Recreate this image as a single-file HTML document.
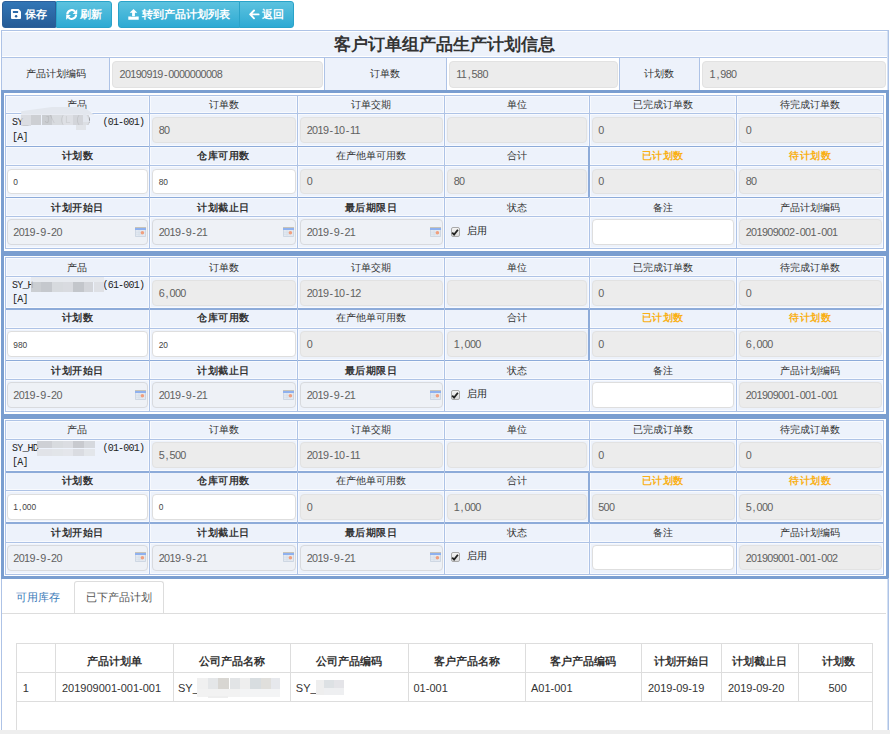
<!DOCTYPE html>
<html><head><meta charset="utf-8"><style>
html,body{margin:0;padding:0;width:890px;height:734px;overflow:hidden;background:#fff;position:relative}
body>div,body>svg{position:absolute}
</style></head><body>
<div style="left:2px;top:1px;width:54px;height:27px;background:linear-gradient(#3276b6,#255b96);box-sizing:border-box;border:1px solid #2b5f99;border-radius:3px 0 0 3px;"></div>
<svg style="position:absolute;left:11.2px;top:9.2px" width="10" height="10" viewBox="0 0 10 10"><path d="M0 1 Q0 0 1 0 H7.6 L10 2.4 V9 Q10 10 9 10 H1 Q0 10 0 9Z" fill="#fff"/><rect x="1.9" y="2.0" width="5.2" height="2.1" rx="0.5" fill="#2d6aa8"/><circle cx="5.1" cy="7.2" r="1.25" fill="#2a63a0"/></svg>
<div style="left:24.5px;top:5.90px;width:120px;height:16px;line-height:16px;text-align:left;white-space:nowrap;color:#fff;font-size:10.7px;font-weight:bold;font-family:'Liberation Sans',sans-serif;">保存</div>
<div style="left:56px;top:1px;width:56px;height:27px;background:linear-gradient(#5cc2df,#2eaad3);box-sizing:border-box;border:1px solid #2aa3c9;border-radius:0 3px 3px 0;"></div>
<svg style="position:absolute;left:65.5px;top:9.3px" width="12" height="11" viewBox="0 0 12 11"><path d="M1.3 5.6 A4.4 4.4 0 0 1 9.0 2.6" stroke="#fff" stroke-width="2.1" fill="none"/><path d="M11.2 0.3 V4.9 H6.6Z" fill="#fff"/><path d="M10.1 5.4 A4.4 4.4 0 0 1 2.4 8.4" stroke="#fff" stroke-width="2.1" fill="none"/><path d="M0.2 10.7 V6.1 H4.8Z" fill="#fff"/></svg>
<div style="left:79.5px;top:5.90px;width:120px;height:16px;line-height:16px;text-align:left;white-space:nowrap;color:#fff;font-size:10.7px;font-weight:bold;font-family:'Liberation Sans',sans-serif;">刷新</div>
<div style="left:118px;top:1px;width:121.5px;height:27px;background:linear-gradient(#5cc2df,#2eaad3);box-sizing:border-box;border:1px solid #2aa3c9;border-radius:3px 0 0 3px;"></div>
<svg style="position:absolute;left:128px;top:8px" width="11" height="12" viewBox="0 0 11 12"><path d="M5.5 1.0 L9.3 4.7 H6.9 V8.6 H4.1 V4.7 H1.7Z" fill="#fff"/><path d="M0.3 8.4 H3.6 V9.0 H7.4 V8.4 H10.7 V11.7 H0.3Z" fill="#fff"/></svg>
<div style="left:142px;top:5.90px;width:120px;height:16px;line-height:16px;text-align:left;white-space:nowrap;color:#fff;font-size:10.7px;font-weight:bold;font-family:'Liberation Sans',sans-serif;">转到产品计划列表</div>
<div style="left:239px;top:1px;width:55px;height:27px;background:linear-gradient(#5cc2df,#2eaad3);box-sizing:border-box;border:1px solid #2aa3c9;border-radius:0 3px 3px 0;"></div>
<svg style="position:absolute;left:249px;top:9px" width="11" height="11" viewBox="0 0 11 11"><path d="M9.6 5.4 H1.6 M5.0 1.5 L1.2 5.4 L5.0 9.3" stroke="#fff" stroke-width="1.9" fill="none" stroke-linecap="round" stroke-linejoin="round"/></svg>
<div style="left:262px;top:5.90px;width:120px;height:16px;line-height:16px;text-align:left;white-space:nowrap;color:#fff;font-size:10.7px;font-weight:bold;font-family:'Liberation Sans',sans-serif;">返回</div>
<div style="left:1px;top:30px;width:888px;height:700px;box-sizing:border-box;border:1px solid #aec3e6;border-bottom:none;background:#fff"></div>
<div style="left:887px;top:31px;width:1px;height:699px;background:#d3e0f3"></div>
<div style="left:2px;top:31px;width:885px;height:26px;background:#edf2fb;box-shadow:inset 0 1px 0 #fff, inset 0 -1px 0 #fff"></div>
<div style="left:2px;top:35.20px;width:885px;height:20px;line-height:20px;text-align:center;white-space:nowrap;font-size:16.8px;font-weight:bold;color:#333;font-family:'Liberation Sans',sans-serif;letter-spacing:0px">客户订单组产品生产计划信息</div>
<div style="left:2px;top:58px;width:107.5px;height:32px;background:#edf2fb"></div>
<div style="left:109.5px;top:58px;width:214.5px;height:32px;background:#fff"></div>
<div style="left:324px;top:58px;width:122.60000000000002px;height:32px;background:#edf2fb"></div>
<div style="left:446.6px;top:58px;width:172.60000000000002px;height:32px;background:#fff"></div>
<div style="left:619.2px;top:58px;width:80.29999999999995px;height:32px;background:#edf2fb"></div>
<div style="left:699.5px;top:58px;width:187.5px;height:32px;background:#fff"></div>
<div style="left:109.0px;top:58px;width:1px;height:32px;background:#aec3e6"></div>
<div style="left:323.5px;top:58px;width:1px;height:32px;background:#aec3e6"></div>
<div style="left:446.1px;top:58px;width:1px;height:32px;background:#aec3e6"></div>
<div style="left:618.7px;top:58px;width:1px;height:32px;background:#aec3e6"></div>
<div style="left:699.0px;top:58px;width:1px;height:32px;background:#aec3e6"></div>
<div style="left:2px;top:57.3px;width:885px;height:1.2px;background:#aec3e6"></div>
<div style="left:2px;top:66.50px;width:107.5px;height:14px;line-height:14px;text-align:center;white-space:nowrap;font-size:10.2px;color:#333;font-family:'Liberation Sans',sans-serif;">产品计划编码</div>
<div style="left:112px;top:61px;width:210.7px;height:26.5px;box-sizing:border-box;background:#ececec;border:1px solid #e2e2e2;border-radius:4px"></div>
<div style="left:119.5px;top:67.00px;width:200px;height:14px;line-height:14px;text-align:left;white-space:nowrap;font-size:10.8px;letter-spacing:-0.6px;color:#606060;font-family:'Liberation Sans',sans-serif;">20190919<span style="margin:0 1.2px">-</span>0000000008</div>
<div style="left:324px;top:66.50px;width:122.60000000000002px;height:14px;line-height:14px;text-align:center;white-space:nowrap;font-size:10.2px;color:#333;font-family:'Liberation Sans',sans-serif;">订单数</div>
<div style="left:448.7px;top:61px;width:169.09999999999997px;height:26.5px;box-sizing:border-box;background:#ececec;border:1px solid #e2e2e2;border-radius:4px"></div>
<div style="left:456.2px;top:67.00px;width:200px;height:14px;line-height:14px;text-align:left;white-space:nowrap;font-size:10.8px;letter-spacing:-0.6px;color:#606060;font-family:'Liberation Sans',sans-serif;">11<span style="margin:0 1.5px">,</span>580</div>
<div style="left:619.2px;top:66.50px;width:80.29999999999995px;height:14px;line-height:14px;text-align:center;white-space:nowrap;font-size:10.2px;color:#333;font-family:'Liberation Sans',sans-serif;">计划数</div>
<div style="left:702px;top:61px;width:183.79999999999995px;height:26.5px;box-sizing:border-box;background:#ececec;border:1px solid #e2e2e2;border-radius:4px"></div>
<div style="left:709.5px;top:67.00px;width:200px;height:14px;line-height:14px;text-align:left;white-space:nowrap;font-size:10.8px;letter-spacing:-0.6px;color:#606060;font-family:'Liberation Sans',sans-serif;">1<span style="margin:0 1.5px">,</span>980</div>
<div style="left:1px;top:90px;width:887px;height:161.3px;"></div>
<div style="left:2px;top:90px;width:885px;height:160.3px;background:#fff"></div>
<div style="left:1px;top:90px;width:887px;height:3px;background:#7a9ed0"></div>
<div style="left:1px;top:90px;width:3px;height:162.8px;background:#7a9ed0"></div>
<div style="left:885.5px;top:90px;width:3px;height:162.8px;background:#7a9ed0"></div>
<div style="left:5px;top:95px;width:878.7px;height:153.8px;background:#edf2fb"></div>
<div style="left:5.5px;top:95.5px;width:143.5px;height:17.5px;box-sizing:border-box;border:1px solid #f8fafe"></div>
<div style="left:150.0px;top:95.5px;width:147.0px;height:17.5px;box-sizing:border-box;border:1px solid #f8fafe"></div>
<div style="left:298.0px;top:95.5px;width:146.0px;height:17.5px;box-sizing:border-box;border:1px solid #f8fafe"></div>
<div style="left:445.0px;top:95.5px;width:143.5px;height:17.5px;box-sizing:border-box;border:1px solid #f8fafe"></div>
<div style="left:589.5px;top:95.5px;width:146.5px;height:17.5px;box-sizing:border-box;border:1px solid #f8fafe"></div>
<div style="left:737.0px;top:95.5px;width:146.2px;height:17.5px;box-sizing:border-box;border:1px solid #f8fafe"></div>
<div style="left:5.5px;top:114.0px;width:143.5px;height:31.5px;box-sizing:border-box;border:1px solid #f8fafe"></div>
<div style="left:150.0px;top:114.0px;width:147.0px;height:31.5px;box-sizing:border-box;border:1px solid #f8fafe"></div>
<div style="left:298.0px;top:114.0px;width:146.0px;height:31.5px;box-sizing:border-box;border:1px solid #f8fafe"></div>
<div style="left:445.0px;top:114.0px;width:143.5px;height:31.5px;box-sizing:border-box;border:1px solid #f8fafe"></div>
<div style="left:589.5px;top:114.0px;width:146.5px;height:31.5px;box-sizing:border-box;border:1px solid #f8fafe"></div>
<div style="left:737.0px;top:114.0px;width:146.2px;height:31.5px;box-sizing:border-box;border:1px solid #f8fafe"></div>
<div style="left:5.5px;top:146.5px;width:143.5px;height:18.3px;box-sizing:border-box;border:1px solid #f8fafe"></div>
<div style="left:150.0px;top:146.5px;width:147.0px;height:18.3px;box-sizing:border-box;border:1px solid #f8fafe"></div>
<div style="left:298.0px;top:146.5px;width:146.0px;height:18.3px;box-sizing:border-box;border:1px solid #f8fafe"></div>
<div style="left:445.0px;top:146.5px;width:143.5px;height:18.3px;box-sizing:border-box;border:1px solid #f8fafe"></div>
<div style="left:589.5px;top:146.5px;width:146.5px;height:18.3px;box-sizing:border-box;border:1px solid #f8fafe"></div>
<div style="left:737.0px;top:146.5px;width:146.2px;height:18.3px;box-sizing:border-box;border:1px solid #f8fafe"></div>
<div style="left:5.5px;top:165.8px;width:143.5px;height:31.1px;box-sizing:border-box;border:1px solid #f8fafe"></div>
<div style="left:150.0px;top:165.8px;width:147.0px;height:31.1px;box-sizing:border-box;border:1px solid #f8fafe"></div>
<div style="left:298.0px;top:165.8px;width:146.0px;height:31.1px;box-sizing:border-box;border:1px solid #f8fafe"></div>
<div style="left:445.0px;top:165.8px;width:143.5px;height:31.1px;box-sizing:border-box;border:1px solid #f8fafe"></div>
<div style="left:589.5px;top:165.8px;width:146.5px;height:31.1px;box-sizing:border-box;border:1px solid #f8fafe"></div>
<div style="left:737.0px;top:165.8px;width:146.2px;height:31.1px;box-sizing:border-box;border:1px solid #f8fafe"></div>
<div style="left:5.5px;top:197.9px;width:143.5px;height:18.5px;box-sizing:border-box;border:1px solid #f8fafe"></div>
<div style="left:150.0px;top:197.9px;width:147.0px;height:18.5px;box-sizing:border-box;border:1px solid #f8fafe"></div>
<div style="left:298.0px;top:197.9px;width:146.0px;height:18.5px;box-sizing:border-box;border:1px solid #f8fafe"></div>
<div style="left:445.0px;top:197.9px;width:143.5px;height:18.5px;box-sizing:border-box;border:1px solid #f8fafe"></div>
<div style="left:589.5px;top:197.9px;width:146.5px;height:18.5px;box-sizing:border-box;border:1px solid #f8fafe"></div>
<div style="left:737.0px;top:197.9px;width:146.2px;height:18.5px;box-sizing:border-box;border:1px solid #f8fafe"></div>
<div style="left:5.5px;top:217.4px;width:143.5px;height:30.9px;box-sizing:border-box;border:1px solid #f8fafe"></div>
<div style="left:150.0px;top:217.4px;width:147.0px;height:30.9px;box-sizing:border-box;border:1px solid #f8fafe"></div>
<div style="left:298.0px;top:217.4px;width:146.0px;height:30.9px;box-sizing:border-box;border:1px solid #f8fafe"></div>
<div style="left:445.0px;top:217.4px;width:143.5px;height:30.9px;box-sizing:border-box;border:1px solid #f8fafe"></div>
<div style="left:589.5px;top:217.4px;width:146.5px;height:30.9px;box-sizing:border-box;border:1px solid #f8fafe"></div>
<div style="left:737.0px;top:217.4px;width:146.2px;height:30.9px;box-sizing:border-box;border:1px solid #f8fafe"></div>
<div style="left:5px;top:94.5px;width:878.7px;height:1px;background:#aec3e6"></div>
<div style="left:5px;top:113.0px;width:878.7px;height:1px;background:#aec3e6"></div>
<div style="left:5px;top:145.5px;width:878.7px;height:1.5px;background:#8dabd9"></div>
<div style="left:5px;top:164.8px;width:878.7px;height:1px;background:#aec3e6"></div>
<div style="left:5px;top:196.9px;width:878.7px;height:1.5px;background:#8dabd9"></div>
<div style="left:5px;top:216.4px;width:878.7px;height:1px;background:#aec3e6"></div>
<div style="left:5px;top:248.3px;width:878.7px;height:1px;background:#aec3e6"></div>
<div style="left:4.5px;top:95px;width:1px;height:153.8px;background:#aec3e6"></div>
<div style="left:149.0px;top:95px;width:1px;height:153.8px;background:#aec3e6"></div>
<div style="left:297.0px;top:95px;width:1px;height:153.8px;background:#aec3e6"></div>
<div style="left:444.0px;top:95px;width:1px;height:153.8px;background:#aec3e6"></div>
<div style="left:588.5px;top:95px;width:1px;height:153.8px;background:#aec3e6"></div>
<div style="left:736.0px;top:95px;width:1px;height:153.8px;background:#aec3e6"></div>
<div style="left:883.2px;top:95px;width:1px;height:153.8px;background:#aec3e6"></div>
<div style="left:588px;top:146px;width:2px;height:51.400000000000006px;background:#8dabd9"></div>
<div style="left:5px;top:97.95px;width:144.5px;height:14px;line-height:14px;text-align:center;white-space:nowrap;font-size:10.2px;color:#333;font-family:'Liberation Sans',sans-serif;">产品</div>
<div style="left:5px;top:148.65px;width:144.5px;height:14px;line-height:14px;text-align:center;white-space:nowrap;font-size:10.2px;color:#333;font-weight:bold;letter-spacing:0.5px;font-family:'Liberation Sans',sans-serif;">计划数</div>
<div style="left:5px;top:200.95px;width:144.5px;height:14px;line-height:14px;text-align:center;white-space:nowrap;font-size:10.2px;color:#333;font-weight:bold;letter-spacing:0.5px;font-family:'Liberation Sans',sans-serif;">计划开始日</div>
<div style="left:149.5px;top:97.95px;width:148.0px;height:14px;line-height:14px;text-align:center;white-space:nowrap;font-size:10.2px;color:#333;font-family:'Liberation Sans',sans-serif;">订单数</div>
<div style="left:149.5px;top:148.65px;width:148.0px;height:14px;line-height:14px;text-align:center;white-space:nowrap;font-size:10.2px;color:#333;font-weight:bold;letter-spacing:0.5px;font-family:'Liberation Sans',sans-serif;">仓库可用数</div>
<div style="left:149.5px;top:200.95px;width:148.0px;height:14px;line-height:14px;text-align:center;white-space:nowrap;font-size:10.2px;color:#333;font-weight:bold;letter-spacing:0.5px;font-family:'Liberation Sans',sans-serif;">计划截止日</div>
<div style="left:297.5px;top:97.95px;width:147.0px;height:14px;line-height:14px;text-align:center;white-space:nowrap;font-size:10.2px;color:#333;font-family:'Liberation Sans',sans-serif;">订单交期</div>
<div style="left:297.5px;top:148.65px;width:147.0px;height:14px;line-height:14px;text-align:center;white-space:nowrap;font-size:10.2px;color:#333;font-family:'Liberation Sans',sans-serif;">在产他单可用数</div>
<div style="left:297.5px;top:200.95px;width:147.0px;height:14px;line-height:14px;text-align:center;white-space:nowrap;font-size:10.2px;color:#333;font-weight:bold;letter-spacing:0.5px;font-family:'Liberation Sans',sans-serif;">最后期限日</div>
<div style="left:444.5px;top:97.95px;width:144.5px;height:14px;line-height:14px;text-align:center;white-space:nowrap;font-size:10.2px;color:#333;font-family:'Liberation Sans',sans-serif;">单位</div>
<div style="left:444.5px;top:148.65px;width:144.5px;height:14px;line-height:14px;text-align:center;white-space:nowrap;font-size:10.2px;color:#333;font-family:'Liberation Sans',sans-serif;">合计</div>
<div style="left:444.5px;top:200.95px;width:144.5px;height:14px;line-height:14px;text-align:center;white-space:nowrap;font-size:10.2px;color:#333;font-family:'Liberation Sans',sans-serif;">状态</div>
<div style="left:589px;top:97.95px;width:147.5px;height:14px;line-height:14px;text-align:center;white-space:nowrap;font-size:10.2px;color:#333;font-family:'Liberation Sans',sans-serif;">已完成订单数</div>
<div style="left:589px;top:148.65px;width:147.5px;height:14px;line-height:14px;text-align:center;white-space:nowrap;font-size:10.2px;color:#f9b016;font-weight:bold;letter-spacing:0.5px;font-family:'Liberation Sans',sans-serif;">已计划数</div>
<div style="left:589px;top:200.95px;width:147.5px;height:14px;line-height:14px;text-align:center;white-space:nowrap;font-size:10.2px;color:#333;font-family:'Liberation Sans',sans-serif;">备注</div>
<div style="left:736.5px;top:97.95px;width:147.20000000000005px;height:14px;line-height:14px;text-align:center;white-space:nowrap;font-size:10.2px;color:#333;font-family:'Liberation Sans',sans-serif;">待完成订单数</div>
<div style="left:736.5px;top:148.65px;width:147.20000000000005px;height:14px;line-height:14px;text-align:center;white-space:nowrap;font-size:10.2px;color:#f9b016;font-weight:bold;letter-spacing:0.5px;font-family:'Liberation Sans',sans-serif;">待计划数</div>
<div style="left:736.5px;top:200.95px;width:147.20000000000005px;height:14px;line-height:14px;text-align:center;white-space:nowrap;font-size:10.2px;color:#333;font-family:'Liberation Sans',sans-serif;">产品计划编码</div>
<div style="left:12px;top:116.15px;width:140px;height:14px;line-height:14px;text-align:left;white-space:nowrap;font-size:10px;color:#222;font-family:'Liberation Mono',monospace;letter-spacing:-0.8px">SY_</div>
<div style="left:102.5px;top:116.15px;width:60px;height:14px;line-height:14px;text-align:left;white-space:nowrap;font-size:10px;color:#222;font-family:'Liberation Mono',monospace;letter-spacing:-0.8px">(01-001)</div>
<div style="left:12px;top:130.55px;width:60px;height:14px;line-height:14px;text-align:left;white-space:nowrap;font-size:10px;color:#222;font-family:'Liberation Mono',monospace;letter-spacing:-0.8px">[A]</div>
<div style="left:44px;top:115px;width:50px;height:13px;overflow:hidden"><div style="position:absolute;left:0;top:-1px;white-space:nowrap;font-size:10px;line-height:14px;color:#555;opacity:0.7;font-family:'Liberation Mono',monospace;letter-spacing:-0.8px">J\ (L ( )</div></div>
<div style="left:21.2px;top:114.6px;width:10.1px;height:11.8px;background:#d8dade;filter:blur(0.6px);opacity:0.85"></div>
<div style="left:31.3px;top:114.6px;width:10.2px;height:10.1px;background:#c8cacd;filter:blur(0.6px);opacity:0.85"></div>
<div style="left:41.5px;top:114.6px;width:10.1px;height:10.1px;background:#c5c7ca;filter:blur(0.6px);opacity:0.85"></div>
<div style="left:51.6px;top:114.6px;width:11.2px;height:10.1px;background:#d5d7db;filter:blur(0.6px);opacity:0.85"></div>
<div style="left:62.8px;top:114.6px;width:10.1px;height:10.1px;background:#dcdee2;filter:blur(0.6px);opacity:0.85"></div>
<div style="left:72.9px;top:114.6px;width:10.1px;height:10.1px;background:#cfd1d5;filter:blur(0.6px);opacity:0.85"></div>
<div style="left:83px;top:114.6px;width:5.7px;height:10.1px;background:#dadce0;filter:blur(0.6px);opacity:0.85"></div>
<div style="left:76px;top:124.7px;width:10px;height:5px;background:#e0e2e6;filter:blur(0.6px);opacity:0.85"></div>
<div style="left:21.2px;top:106.8px;width:73px;height:8px;background:#e3e7ee;clip-path:polygon(0 55%,45% 0,85% 0,100% 100%,0 100%);filter:blur(0.5px)"></div>
<div style="left:83px;top:114px;width:7px;height:8px;background:#e3e7ee;clip-path:polygon(0 0,40% 0,100% 100%,0 100%);filter:blur(0.5px)"></div>
<div style="left:152.2px;top:116.8px;width:143.7px;height:26.2px;box-sizing:border-box;background:#ececec;border:1px solid #e2e2e2;border-radius:4px"></div>
<div style="left:158.7px;top:122.90px;width:150px;height:14px;line-height:14px;text-align:left;white-space:nowrap;font-size:10.8px;letter-spacing:-0.6px;color:#606060;font-family:'Liberation Sans',sans-serif;">80</div>
<div style="left:300.2px;top:116.8px;width:142.7px;height:26.2px;box-sizing:border-box;background:#ececec;border:1px solid #e2e2e2;border-radius:4px"></div>
<div style="left:306.7px;top:122.90px;width:150px;height:14px;line-height:14px;text-align:left;white-space:nowrap;font-size:10.8px;letter-spacing:-0.6px;color:#606060;font-family:'Liberation Sans',sans-serif;">2019<span style="margin:0 1.2px">-</span>10<span style="margin:0 1.2px">-</span>11</div>
<div style="left:447.2px;top:116.8px;width:140.2px;height:26.2px;box-sizing:border-box;background:#ececec;border:1px solid #e2e2e2;border-radius:4px"></div>
<div style="left:591.7px;top:116.8px;width:143.19999999999993px;height:26.2px;box-sizing:border-box;background:#ececec;border:1px solid #e2e2e2;border-radius:4px"></div>
<div style="left:598.2px;top:122.90px;width:150px;height:14px;line-height:14px;text-align:left;white-space:nowrap;font-size:10.8px;letter-spacing:-0.6px;color:#606060;font-family:'Liberation Sans',sans-serif;">0</div>
<div style="left:739.2px;top:116.8px;width:142.89999999999998px;height:26.2px;box-sizing:border-box;background:#ececec;border:1px solid #e2e2e2;border-radius:4px"></div>
<div style="left:745.7px;top:122.90px;width:150px;height:14px;line-height:14px;text-align:left;white-space:nowrap;font-size:10.8px;letter-spacing:-0.6px;color:#606060;font-family:'Liberation Sans',sans-serif;">0</div>
<div style="left:6.8px;top:168.5px;width:141.1px;height:25.5px;box-sizing:border-box;background:#fff;border:1px solid #dedede;border-radius:4px"></div>
<div style="left:13.3px;top:175.75px;width:150px;height:12px;line-height:12px;text-align:left;white-space:nowrap;font-size:8.4px;color:#444;font-family:'Liberation Sans',sans-serif;">0</div>
<div style="left:152.2px;top:168.5px;width:143.7px;height:25.5px;box-sizing:border-box;background:#fff;border:1px solid #dedede;border-radius:4px"></div>
<div style="left:158.7px;top:175.75px;width:150px;height:12px;line-height:12px;text-align:left;white-space:nowrap;font-size:8.4px;color:#444;font-family:'Liberation Sans',sans-serif;">80</div>
<div style="left:300.2px;top:168.5px;width:142.7px;height:25.5px;box-sizing:border-box;background:#ececec;border:1px solid #e2e2e2;border-radius:4px"></div>
<div style="left:306.7px;top:174.25px;width:150px;height:14px;line-height:14px;text-align:left;white-space:nowrap;font-size:10.8px;letter-spacing:-0.6px;color:#606060;font-family:'Liberation Sans',sans-serif;">0</div>
<div style="left:447.2px;top:168.5px;width:140.2px;height:25.5px;box-sizing:border-box;background:#ececec;border:1px solid #e2e2e2;border-radius:4px"></div>
<div style="left:453.7px;top:174.25px;width:150px;height:14px;line-height:14px;text-align:left;white-space:nowrap;font-size:10.8px;letter-spacing:-0.6px;color:#606060;font-family:'Liberation Sans',sans-serif;">80</div>
<div style="left:591.7px;top:168.5px;width:143.19999999999993px;height:25.5px;box-sizing:border-box;background:#ececec;border:1px solid #e2e2e2;border-radius:4px"></div>
<div style="left:598.2px;top:174.25px;width:150px;height:14px;line-height:14px;text-align:left;white-space:nowrap;font-size:10.8px;letter-spacing:-0.6px;color:#606060;font-family:'Liberation Sans',sans-serif;">0</div>
<div style="left:739.2px;top:168.5px;width:142.89999999999998px;height:25.5px;box-sizing:border-box;background:#ececec;border:1px solid #e2e2e2;border-radius:4px"></div>
<div style="left:745.7px;top:174.25px;width:150px;height:14px;line-height:14px;text-align:left;white-space:nowrap;font-size:10.8px;letter-spacing:-0.6px;color:#606060;font-family:'Liberation Sans',sans-serif;">80</div>
<div style="left:6.8px;top:219.1px;width:141.1px;height:26px;box-sizing:border-box;background:#eef1f6;border:1px solid #d8dade;border-radius:4px"></div>
<div style="left:13.3px;top:225.10px;width:150px;height:14px;line-height:14px;text-align:left;white-space:nowrap;font-size:10.8px;letter-spacing:-0.6px;color:#606060;font-family:'Liberation Sans',sans-serif;">2019<span style="margin:0 1.2px">-</span>9<span style="margin:0 1.2px">-</span>20</div>
<svg style="position:absolute;left:135.20000000000002px;top:226.9px" width="11" height="10" viewBox="0 0 11 10"><rect x="0" y="0" width="11" height="10" rx="1" fill="#c9d3e0"/><rect x="0.8" y="3" width="9.4" height="6.2" fill="#e3e9f1"/><rect x="0" y="0" width="11" height="0.9" fill="#cdc5ae"/><rect x="0" y="0.9" width="11" height="2.1" fill="#8fb1ee"/><path d="M1 5.2 H7 M1 7.3 H7 M4 3 V9" stroke="#cfd8e4" stroke-width="0.5"/><circle cx="7.4" cy="5.7" r="1.8" fill="#f0a07f"/></svg>
<div style="left:152.2px;top:219.1px;width:143.7px;height:26px;box-sizing:border-box;background:#eef1f6;border:1px solid #d8dade;border-radius:4px"></div>
<div style="left:158.7px;top:225.10px;width:150px;height:14px;line-height:14px;text-align:left;white-space:nowrap;font-size:10.8px;letter-spacing:-0.6px;color:#606060;font-family:'Liberation Sans',sans-serif;">2019<span style="margin:0 1.2px">-</span>9<span style="margin:0 1.2px">-</span>21</div>
<svg style="position:absolute;left:283.2px;top:226.9px" width="11" height="10" viewBox="0 0 11 10"><rect x="0" y="0" width="11" height="10" rx="1" fill="#c9d3e0"/><rect x="0.8" y="3" width="9.4" height="6.2" fill="#e3e9f1"/><rect x="0" y="0" width="11" height="0.9" fill="#cdc5ae"/><rect x="0" y="0.9" width="11" height="2.1" fill="#8fb1ee"/><path d="M1 5.2 H7 M1 7.3 H7 M4 3 V9" stroke="#cfd8e4" stroke-width="0.5"/><circle cx="7.4" cy="5.7" r="1.8" fill="#f0a07f"/></svg>
<div style="left:300.2px;top:219.1px;width:142.7px;height:26px;box-sizing:border-box;background:#eef1f6;border:1px solid #d8dade;border-radius:4px"></div>
<div style="left:306.7px;top:225.10px;width:150px;height:14px;line-height:14px;text-align:left;white-space:nowrap;font-size:10.8px;letter-spacing:-0.6px;color:#606060;font-family:'Liberation Sans',sans-serif;">2019<span style="margin:0 1.2px">-</span>9<span style="margin:0 1.2px">-</span>21</div>
<svg style="position:absolute;left:430.2px;top:226.9px" width="11" height="10" viewBox="0 0 11 10"><rect x="0" y="0" width="11" height="10" rx="1" fill="#c9d3e0"/><rect x="0.8" y="3" width="9.4" height="6.2" fill="#e3e9f1"/><rect x="0" y="0" width="11" height="0.9" fill="#cdc5ae"/><rect x="0" y="0.9" width="11" height="2.1" fill="#8fb1ee"/><path d="M1 5.2 H7 M1 7.3 H7 M4 3 V9" stroke="#cfd8e4" stroke-width="0.5"/><circle cx="7.4" cy="5.7" r="1.8" fill="#f0a07f"/></svg>
<div style="left:450.5px;top:226.9px;width:9.5px;height:10px;box-sizing:border-box;border:1px solid #a9a9a9;border-radius:2px;background:linear-gradient(#f4f4f4,#dcdcdc)"></div>
<svg style="position:absolute;left:451.3px;top:227.9px" width="8" height="8" viewBox="0 0 8 8"><path d="M1.2 4.6 L3.1 6.6 L6.9 1.8" stroke="#222" stroke-width="1.8" fill="none"/></svg>
<div style="left:466.8px;top:223.90px;width:40px;height:14px;line-height:14px;text-align:left;white-space:nowrap;font-size:9.8px;color:#222;font-family:'Liberation Sans',sans-serif;">启用</div>
<div style="left:591.7px;top:219.4px;width:142.69999999999993px;height:25.5px;box-sizing:border-box;background:#fff;border:1px solid #dedede;border-radius:4px"></div>
<div style="left:739.2px;top:219.4px;width:142.39999999999998px;height:25.5px;box-sizing:border-box;background:#ececec;border:1px solid #e2e2e2;border-radius:4px"></div>
<div style="left:745.7px;top:225.15px;width:150px;height:14px;line-height:14px;text-align:left;white-space:nowrap;font-size:10.8px;letter-spacing:-0.6px;color:#606060;font-family:'Liberation Sans',sans-serif;">201909002<span style="margin:0 1.2px">-</span>001<span style="margin:0 1.2px">-</span>001</div>
<div style="left:1px;top:251px;width:887px;height:163.05px;"></div>
<div style="left:2px;top:251px;width:885px;height:162.05px;background:#fff"></div>
<div style="left:1px;top:251px;width:887px;height:4.5px;background:#7a9ed0"></div>
<div style="left:1px;top:251px;width:3px;height:164.55px;background:#7a9ed0"></div>
<div style="left:885.5px;top:251px;width:3px;height:164.55px;background:#7a9ed0"></div>
<div style="left:5px;top:257.75px;width:878.7px;height:153.8px;background:#edf2fb"></div>
<div style="left:5.5px;top:258.25px;width:143.5px;height:17.5px;box-sizing:border-box;border:1px solid #f8fafe"></div>
<div style="left:150.0px;top:258.25px;width:147.0px;height:17.5px;box-sizing:border-box;border:1px solid #f8fafe"></div>
<div style="left:298.0px;top:258.25px;width:146.0px;height:17.5px;box-sizing:border-box;border:1px solid #f8fafe"></div>
<div style="left:445.0px;top:258.25px;width:143.5px;height:17.5px;box-sizing:border-box;border:1px solid #f8fafe"></div>
<div style="left:589.5px;top:258.25px;width:146.5px;height:17.5px;box-sizing:border-box;border:1px solid #f8fafe"></div>
<div style="left:737.0px;top:258.25px;width:146.2px;height:17.5px;box-sizing:border-box;border:1px solid #f8fafe"></div>
<div style="left:5.5px;top:276.75px;width:143.5px;height:31.5px;box-sizing:border-box;border:1px solid #f8fafe"></div>
<div style="left:150.0px;top:276.75px;width:147.0px;height:31.5px;box-sizing:border-box;border:1px solid #f8fafe"></div>
<div style="left:298.0px;top:276.75px;width:146.0px;height:31.5px;box-sizing:border-box;border:1px solid #f8fafe"></div>
<div style="left:445.0px;top:276.75px;width:143.5px;height:31.5px;box-sizing:border-box;border:1px solid #f8fafe"></div>
<div style="left:589.5px;top:276.75px;width:146.5px;height:31.5px;box-sizing:border-box;border:1px solid #f8fafe"></div>
<div style="left:737.0px;top:276.75px;width:146.2px;height:31.5px;box-sizing:border-box;border:1px solid #f8fafe"></div>
<div style="left:5.5px;top:309.25px;width:143.5px;height:18.3px;box-sizing:border-box;border:1px solid #f8fafe"></div>
<div style="left:150.0px;top:309.25px;width:147.0px;height:18.3px;box-sizing:border-box;border:1px solid #f8fafe"></div>
<div style="left:298.0px;top:309.25px;width:146.0px;height:18.3px;box-sizing:border-box;border:1px solid #f8fafe"></div>
<div style="left:445.0px;top:309.25px;width:143.5px;height:18.3px;box-sizing:border-box;border:1px solid #f8fafe"></div>
<div style="left:589.5px;top:309.25px;width:146.5px;height:18.3px;box-sizing:border-box;border:1px solid #f8fafe"></div>
<div style="left:737.0px;top:309.25px;width:146.2px;height:18.3px;box-sizing:border-box;border:1px solid #f8fafe"></div>
<div style="left:5.5px;top:328.55px;width:143.5px;height:31.1px;box-sizing:border-box;border:1px solid #f8fafe"></div>
<div style="left:150.0px;top:328.55px;width:147.0px;height:31.1px;box-sizing:border-box;border:1px solid #f8fafe"></div>
<div style="left:298.0px;top:328.55px;width:146.0px;height:31.1px;box-sizing:border-box;border:1px solid #f8fafe"></div>
<div style="left:445.0px;top:328.55px;width:143.5px;height:31.1px;box-sizing:border-box;border:1px solid #f8fafe"></div>
<div style="left:589.5px;top:328.55px;width:146.5px;height:31.1px;box-sizing:border-box;border:1px solid #f8fafe"></div>
<div style="left:737.0px;top:328.55px;width:146.2px;height:31.1px;box-sizing:border-box;border:1px solid #f8fafe"></div>
<div style="left:5.5px;top:360.65px;width:143.5px;height:18.5px;box-sizing:border-box;border:1px solid #f8fafe"></div>
<div style="left:150.0px;top:360.65px;width:147.0px;height:18.5px;box-sizing:border-box;border:1px solid #f8fafe"></div>
<div style="left:298.0px;top:360.65px;width:146.0px;height:18.5px;box-sizing:border-box;border:1px solid #f8fafe"></div>
<div style="left:445.0px;top:360.65px;width:143.5px;height:18.5px;box-sizing:border-box;border:1px solid #f8fafe"></div>
<div style="left:589.5px;top:360.65px;width:146.5px;height:18.5px;box-sizing:border-box;border:1px solid #f8fafe"></div>
<div style="left:737.0px;top:360.65px;width:146.2px;height:18.5px;box-sizing:border-box;border:1px solid #f8fafe"></div>
<div style="left:5.5px;top:380.15px;width:143.5px;height:30.9px;box-sizing:border-box;border:1px solid #f8fafe"></div>
<div style="left:150.0px;top:380.15px;width:147.0px;height:30.9px;box-sizing:border-box;border:1px solid #f8fafe"></div>
<div style="left:298.0px;top:380.15px;width:146.0px;height:30.9px;box-sizing:border-box;border:1px solid #f8fafe"></div>
<div style="left:445.0px;top:380.15px;width:143.5px;height:30.9px;box-sizing:border-box;border:1px solid #f8fafe"></div>
<div style="left:589.5px;top:380.15px;width:146.5px;height:30.9px;box-sizing:border-box;border:1px solid #f8fafe"></div>
<div style="left:737.0px;top:380.15px;width:146.2px;height:30.9px;box-sizing:border-box;border:1px solid #f8fafe"></div>
<div style="left:5px;top:257.25px;width:878.7px;height:1px;background:#aec3e6"></div>
<div style="left:5px;top:275.75px;width:878.7px;height:1px;background:#aec3e6"></div>
<div style="left:5px;top:308.25px;width:878.7px;height:1.5px;background:#8dabd9"></div>
<div style="left:5px;top:327.55px;width:878.7px;height:1px;background:#aec3e6"></div>
<div style="left:5px;top:359.65px;width:878.7px;height:1.5px;background:#8dabd9"></div>
<div style="left:5px;top:379.15px;width:878.7px;height:1px;background:#aec3e6"></div>
<div style="left:5px;top:411.05px;width:878.7px;height:1px;background:#aec3e6"></div>
<div style="left:4.5px;top:257.75px;width:1px;height:153.8px;background:#aec3e6"></div>
<div style="left:149.0px;top:257.75px;width:1px;height:153.8px;background:#aec3e6"></div>
<div style="left:297.0px;top:257.75px;width:1px;height:153.8px;background:#aec3e6"></div>
<div style="left:444.0px;top:257.75px;width:1px;height:153.8px;background:#aec3e6"></div>
<div style="left:588.5px;top:257.75px;width:1px;height:153.8px;background:#aec3e6"></div>
<div style="left:736.0px;top:257.75px;width:1px;height:153.8px;background:#aec3e6"></div>
<div style="left:883.2px;top:257.75px;width:1px;height:153.8px;background:#aec3e6"></div>
<div style="left:588px;top:308.75px;width:2px;height:51.39999999999998px;background:#8dabd9"></div>
<div style="left:5px;top:260.70px;width:144.5px;height:14px;line-height:14px;text-align:center;white-space:nowrap;font-size:10.2px;color:#333;font-family:'Liberation Sans',sans-serif;">产品</div>
<div style="left:5px;top:311.40px;width:144.5px;height:14px;line-height:14px;text-align:center;white-space:nowrap;font-size:10.2px;color:#333;font-weight:bold;letter-spacing:0.5px;font-family:'Liberation Sans',sans-serif;">计划数</div>
<div style="left:5px;top:363.70px;width:144.5px;height:14px;line-height:14px;text-align:center;white-space:nowrap;font-size:10.2px;color:#333;font-weight:bold;letter-spacing:0.5px;font-family:'Liberation Sans',sans-serif;">计划开始日</div>
<div style="left:149.5px;top:260.70px;width:148.0px;height:14px;line-height:14px;text-align:center;white-space:nowrap;font-size:10.2px;color:#333;font-family:'Liberation Sans',sans-serif;">订单数</div>
<div style="left:149.5px;top:311.40px;width:148.0px;height:14px;line-height:14px;text-align:center;white-space:nowrap;font-size:10.2px;color:#333;font-weight:bold;letter-spacing:0.5px;font-family:'Liberation Sans',sans-serif;">仓库可用数</div>
<div style="left:149.5px;top:363.70px;width:148.0px;height:14px;line-height:14px;text-align:center;white-space:nowrap;font-size:10.2px;color:#333;font-weight:bold;letter-spacing:0.5px;font-family:'Liberation Sans',sans-serif;">计划截止日</div>
<div style="left:297.5px;top:260.70px;width:147.0px;height:14px;line-height:14px;text-align:center;white-space:nowrap;font-size:10.2px;color:#333;font-family:'Liberation Sans',sans-serif;">订单交期</div>
<div style="left:297.5px;top:311.40px;width:147.0px;height:14px;line-height:14px;text-align:center;white-space:nowrap;font-size:10.2px;color:#333;font-family:'Liberation Sans',sans-serif;">在产他单可用数</div>
<div style="left:297.5px;top:363.70px;width:147.0px;height:14px;line-height:14px;text-align:center;white-space:nowrap;font-size:10.2px;color:#333;font-weight:bold;letter-spacing:0.5px;font-family:'Liberation Sans',sans-serif;">最后期限日</div>
<div style="left:444.5px;top:260.70px;width:144.5px;height:14px;line-height:14px;text-align:center;white-space:nowrap;font-size:10.2px;color:#333;font-family:'Liberation Sans',sans-serif;">单位</div>
<div style="left:444.5px;top:311.40px;width:144.5px;height:14px;line-height:14px;text-align:center;white-space:nowrap;font-size:10.2px;color:#333;font-family:'Liberation Sans',sans-serif;">合计</div>
<div style="left:444.5px;top:363.70px;width:144.5px;height:14px;line-height:14px;text-align:center;white-space:nowrap;font-size:10.2px;color:#333;font-family:'Liberation Sans',sans-serif;">状态</div>
<div style="left:589px;top:260.70px;width:147.5px;height:14px;line-height:14px;text-align:center;white-space:nowrap;font-size:10.2px;color:#333;font-family:'Liberation Sans',sans-serif;">已完成订单数</div>
<div style="left:589px;top:311.40px;width:147.5px;height:14px;line-height:14px;text-align:center;white-space:nowrap;font-size:10.2px;color:#f9b016;font-weight:bold;letter-spacing:0.5px;font-family:'Liberation Sans',sans-serif;">已计划数</div>
<div style="left:589px;top:363.70px;width:147.5px;height:14px;line-height:14px;text-align:center;white-space:nowrap;font-size:10.2px;color:#333;font-family:'Liberation Sans',sans-serif;">备注</div>
<div style="left:736.5px;top:260.70px;width:147.20000000000005px;height:14px;line-height:14px;text-align:center;white-space:nowrap;font-size:10.2px;color:#333;font-family:'Liberation Sans',sans-serif;">待完成订单数</div>
<div style="left:736.5px;top:311.40px;width:147.20000000000005px;height:14px;line-height:14px;text-align:center;white-space:nowrap;font-size:10.2px;color:#f9b016;font-weight:bold;letter-spacing:0.5px;font-family:'Liberation Sans',sans-serif;">待计划数</div>
<div style="left:736.5px;top:363.70px;width:147.20000000000005px;height:14px;line-height:14px;text-align:center;white-space:nowrap;font-size:10.2px;color:#333;font-family:'Liberation Sans',sans-serif;">产品计划编码</div>
<div style="left:12px;top:278.90px;width:140px;height:14px;line-height:14px;text-align:left;white-space:nowrap;font-size:10px;color:#222;font-family:'Liberation Mono',monospace;letter-spacing:-0.8px">SY_H</div>
<div style="left:102.5px;top:278.90px;width:60px;height:14px;line-height:14px;text-align:left;white-space:nowrap;font-size:10px;color:#222;font-family:'Liberation Mono',monospace;letter-spacing:-0.8px">(61-001)</div>
<div style="left:12px;top:293.30px;width:60px;height:14px;line-height:14px;text-align:left;white-space:nowrap;font-size:10px;color:#222;font-family:'Liberation Mono',monospace;letter-spacing:-0.8px">[A]</div>
<div style="left:30.6px;top:277px;width:73.7px;height:5px;background:#e6e9ee;filter:blur(0.6px);opacity:0.85"></div>
<div style="left:30.6px;top:282px;width:10.7px;height:9.6px;background:#c6c8cc;filter:blur(0.6px);opacity:0.85"></div>
<div style="left:41.3px;top:282px;width:10.8px;height:9.6px;background:#bfc1c5;filter:blur(0.6px);opacity:0.85"></div>
<div style="left:52.1px;top:282px;width:10.8px;height:9.6px;background:#d4d6d9;filter:blur(0.6px);opacity:0.85"></div>
<div style="left:62.9px;top:282px;width:9.9px;height:9.6px;background:#d6d8dc;filter:blur(0.6px);opacity:0.85"></div>
<div style="left:72.8px;top:282px;width:10.8px;height:9.6px;background:#bcbfc3;filter:blur(0.6px);opacity:0.85"></div>
<div style="left:83.6px;top:282px;width:9.9px;height:9.6px;background:#cfd1d5;filter:blur(0.6px);opacity:0.85"></div>
<div style="left:93.5px;top:282px;width:10.8px;height:9.6px;background:#dcdee2;filter:blur(0.6px);opacity:0.85"></div>
<div style="left:152.2px;top:279.55px;width:143.7px;height:26.2px;box-sizing:border-box;background:#ececec;border:1px solid #e2e2e2;border-radius:4px"></div>
<div style="left:158.7px;top:285.65px;width:150px;height:14px;line-height:14px;text-align:left;white-space:nowrap;font-size:10.8px;letter-spacing:-0.6px;color:#606060;font-family:'Liberation Sans',sans-serif;">6<span style="margin:0 1.5px">,</span>000</div>
<div style="left:300.2px;top:279.55px;width:142.7px;height:26.2px;box-sizing:border-box;background:#ececec;border:1px solid #e2e2e2;border-radius:4px"></div>
<div style="left:306.7px;top:285.65px;width:150px;height:14px;line-height:14px;text-align:left;white-space:nowrap;font-size:10.8px;letter-spacing:-0.6px;color:#606060;font-family:'Liberation Sans',sans-serif;">2019<span style="margin:0 1.2px">-</span>10<span style="margin:0 1.2px">-</span>12</div>
<div style="left:447.2px;top:279.55px;width:140.2px;height:26.2px;box-sizing:border-box;background:#ececec;border:1px solid #e2e2e2;border-radius:4px"></div>
<div style="left:591.7px;top:279.55px;width:143.19999999999993px;height:26.2px;box-sizing:border-box;background:#ececec;border:1px solid #e2e2e2;border-radius:4px"></div>
<div style="left:598.2px;top:285.65px;width:150px;height:14px;line-height:14px;text-align:left;white-space:nowrap;font-size:10.8px;letter-spacing:-0.6px;color:#606060;font-family:'Liberation Sans',sans-serif;">0</div>
<div style="left:739.2px;top:279.55px;width:142.89999999999998px;height:26.2px;box-sizing:border-box;background:#ececec;border:1px solid #e2e2e2;border-radius:4px"></div>
<div style="left:745.7px;top:285.65px;width:150px;height:14px;line-height:14px;text-align:left;white-space:nowrap;font-size:10.8px;letter-spacing:-0.6px;color:#606060;font-family:'Liberation Sans',sans-serif;">0</div>
<div style="left:6.8px;top:331.25px;width:141.1px;height:25.5px;box-sizing:border-box;background:#fff;border:1px solid #dedede;border-radius:4px"></div>
<div style="left:13.3px;top:338.50px;width:150px;height:12px;line-height:12px;text-align:left;white-space:nowrap;font-size:8.4px;color:#444;font-family:'Liberation Sans',sans-serif;">980</div>
<div style="left:152.2px;top:331.25px;width:143.7px;height:25.5px;box-sizing:border-box;background:#fff;border:1px solid #dedede;border-radius:4px"></div>
<div style="left:158.7px;top:338.50px;width:150px;height:12px;line-height:12px;text-align:left;white-space:nowrap;font-size:8.4px;color:#444;font-family:'Liberation Sans',sans-serif;">20</div>
<div style="left:300.2px;top:331.25px;width:142.7px;height:25.5px;box-sizing:border-box;background:#ececec;border:1px solid #e2e2e2;border-radius:4px"></div>
<div style="left:306.7px;top:337.00px;width:150px;height:14px;line-height:14px;text-align:left;white-space:nowrap;font-size:10.8px;letter-spacing:-0.6px;color:#606060;font-family:'Liberation Sans',sans-serif;">0</div>
<div style="left:447.2px;top:331.25px;width:140.2px;height:25.5px;box-sizing:border-box;background:#ececec;border:1px solid #e2e2e2;border-radius:4px"></div>
<div style="left:453.7px;top:337.00px;width:150px;height:14px;line-height:14px;text-align:left;white-space:nowrap;font-size:10.8px;letter-spacing:-0.6px;color:#606060;font-family:'Liberation Sans',sans-serif;">1<span style="margin:0 1.5px">,</span>000</div>
<div style="left:591.7px;top:331.25px;width:143.19999999999993px;height:25.5px;box-sizing:border-box;background:#ececec;border:1px solid #e2e2e2;border-radius:4px"></div>
<div style="left:598.2px;top:337.00px;width:150px;height:14px;line-height:14px;text-align:left;white-space:nowrap;font-size:10.8px;letter-spacing:-0.6px;color:#606060;font-family:'Liberation Sans',sans-serif;">0</div>
<div style="left:739.2px;top:331.25px;width:142.89999999999998px;height:25.5px;box-sizing:border-box;background:#ececec;border:1px solid #e2e2e2;border-radius:4px"></div>
<div style="left:745.7px;top:337.00px;width:150px;height:14px;line-height:14px;text-align:left;white-space:nowrap;font-size:10.8px;letter-spacing:-0.6px;color:#606060;font-family:'Liberation Sans',sans-serif;">6<span style="margin:0 1.5px">,</span>000</div>
<div style="left:6.8px;top:381.84999999999997px;width:141.1px;height:26px;box-sizing:border-box;background:#eef1f6;border:1px solid #d8dade;border-radius:4px"></div>
<div style="left:13.3px;top:387.85px;width:150px;height:14px;line-height:14px;text-align:left;white-space:nowrap;font-size:10.8px;letter-spacing:-0.6px;color:#606060;font-family:'Liberation Sans',sans-serif;">2019<span style="margin:0 1.2px">-</span>9<span style="margin:0 1.2px">-</span>20</div>
<svg style="position:absolute;left:135.20000000000002px;top:389.65px" width="11" height="10" viewBox="0 0 11 10"><rect x="0" y="0" width="11" height="10" rx="1" fill="#c9d3e0"/><rect x="0.8" y="3" width="9.4" height="6.2" fill="#e3e9f1"/><rect x="0" y="0" width="11" height="0.9" fill="#cdc5ae"/><rect x="0" y="0.9" width="11" height="2.1" fill="#8fb1ee"/><path d="M1 5.2 H7 M1 7.3 H7 M4 3 V9" stroke="#cfd8e4" stroke-width="0.5"/><circle cx="7.4" cy="5.7" r="1.8" fill="#f0a07f"/></svg>
<div style="left:152.2px;top:381.84999999999997px;width:143.7px;height:26px;box-sizing:border-box;background:#eef1f6;border:1px solid #d8dade;border-radius:4px"></div>
<div style="left:158.7px;top:387.85px;width:150px;height:14px;line-height:14px;text-align:left;white-space:nowrap;font-size:10.8px;letter-spacing:-0.6px;color:#606060;font-family:'Liberation Sans',sans-serif;">2019<span style="margin:0 1.2px">-</span>9<span style="margin:0 1.2px">-</span>21</div>
<svg style="position:absolute;left:283.2px;top:389.65px" width="11" height="10" viewBox="0 0 11 10"><rect x="0" y="0" width="11" height="10" rx="1" fill="#c9d3e0"/><rect x="0.8" y="3" width="9.4" height="6.2" fill="#e3e9f1"/><rect x="0" y="0" width="11" height="0.9" fill="#cdc5ae"/><rect x="0" y="0.9" width="11" height="2.1" fill="#8fb1ee"/><path d="M1 5.2 H7 M1 7.3 H7 M4 3 V9" stroke="#cfd8e4" stroke-width="0.5"/><circle cx="7.4" cy="5.7" r="1.8" fill="#f0a07f"/></svg>
<div style="left:300.2px;top:381.84999999999997px;width:142.7px;height:26px;box-sizing:border-box;background:#eef1f6;border:1px solid #d8dade;border-radius:4px"></div>
<div style="left:306.7px;top:387.85px;width:150px;height:14px;line-height:14px;text-align:left;white-space:nowrap;font-size:10.8px;letter-spacing:-0.6px;color:#606060;font-family:'Liberation Sans',sans-serif;">2019<span style="margin:0 1.2px">-</span>9<span style="margin:0 1.2px">-</span>21</div>
<svg style="position:absolute;left:430.2px;top:389.65px" width="11" height="10" viewBox="0 0 11 10"><rect x="0" y="0" width="11" height="10" rx="1" fill="#c9d3e0"/><rect x="0.8" y="3" width="9.4" height="6.2" fill="#e3e9f1"/><rect x="0" y="0" width="11" height="0.9" fill="#cdc5ae"/><rect x="0" y="0.9" width="11" height="2.1" fill="#8fb1ee"/><path d="M1 5.2 H7 M1 7.3 H7 M4 3 V9" stroke="#cfd8e4" stroke-width="0.5"/><circle cx="7.4" cy="5.7" r="1.8" fill="#f0a07f"/></svg>
<div style="left:450.5px;top:389.65px;width:9.5px;height:10px;box-sizing:border-box;border:1px solid #a9a9a9;border-radius:2px;background:linear-gradient(#f4f4f4,#dcdcdc)"></div>
<svg style="position:absolute;left:451.3px;top:390.65px" width="8" height="8" viewBox="0 0 8 8"><path d="M1.2 4.6 L3.1 6.6 L6.9 1.8" stroke="#222" stroke-width="1.8" fill="none"/></svg>
<div style="left:466.8px;top:386.65px;width:40px;height:14px;line-height:14px;text-align:left;white-space:nowrap;font-size:9.8px;color:#222;font-family:'Liberation Sans',sans-serif;">启用</div>
<div style="left:591.7px;top:382.15px;width:142.69999999999993px;height:25.5px;box-sizing:border-box;background:#fff;border:1px solid #dedede;border-radius:4px"></div>
<div style="left:739.2px;top:382.15px;width:142.39999999999998px;height:25.5px;box-sizing:border-box;background:#ececec;border:1px solid #e2e2e2;border-radius:4px"></div>
<div style="left:745.7px;top:387.90px;width:150px;height:14px;line-height:14px;text-align:left;white-space:nowrap;font-size:10.8px;letter-spacing:-0.6px;color:#606060;font-family:'Liberation Sans',sans-serif;">201909001<span style="margin:0 1.2px">-</span>001<span style="margin:0 1.2px">-</span>001</div>
<div style="left:1px;top:414px;width:887px;height:162.79999999999995px;"></div>
<div style="left:2px;top:414px;width:885px;height:161.79999999999995px;background:#fff"></div>
<div style="left:1px;top:414px;width:887px;height:4.5px;background:#7a9ed0"></div>
<div style="left:1px;top:414px;width:3px;height:164.29999999999995px;background:#7a9ed0"></div>
<div style="left:885.5px;top:414px;width:3px;height:164.29999999999995px;background:#7a9ed0"></div>
<div style="left:5px;top:420.5px;width:878.7px;height:153.79999999999995px;background:#edf2fb"></div>
<div style="left:5.5px;top:421.0px;width:143.5px;height:17.5px;box-sizing:border-box;border:1px solid #f8fafe"></div>
<div style="left:150.0px;top:421.0px;width:147.0px;height:17.5px;box-sizing:border-box;border:1px solid #f8fafe"></div>
<div style="left:298.0px;top:421.0px;width:146.0px;height:17.5px;box-sizing:border-box;border:1px solid #f8fafe"></div>
<div style="left:445.0px;top:421.0px;width:143.5px;height:17.5px;box-sizing:border-box;border:1px solid #f8fafe"></div>
<div style="left:589.5px;top:421.0px;width:146.5px;height:17.5px;box-sizing:border-box;border:1px solid #f8fafe"></div>
<div style="left:737.0px;top:421.0px;width:146.2px;height:17.5px;box-sizing:border-box;border:1px solid #f8fafe"></div>
<div style="left:5.5px;top:439.5px;width:143.5px;height:31.5px;box-sizing:border-box;border:1px solid #f8fafe"></div>
<div style="left:150.0px;top:439.5px;width:147.0px;height:31.5px;box-sizing:border-box;border:1px solid #f8fafe"></div>
<div style="left:298.0px;top:439.5px;width:146.0px;height:31.5px;box-sizing:border-box;border:1px solid #f8fafe"></div>
<div style="left:445.0px;top:439.5px;width:143.5px;height:31.5px;box-sizing:border-box;border:1px solid #f8fafe"></div>
<div style="left:589.5px;top:439.5px;width:146.5px;height:31.5px;box-sizing:border-box;border:1px solid #f8fafe"></div>
<div style="left:737.0px;top:439.5px;width:146.2px;height:31.5px;box-sizing:border-box;border:1px solid #f8fafe"></div>
<div style="left:5.5px;top:472.0px;width:143.5px;height:18.3px;box-sizing:border-box;border:1px solid #f8fafe"></div>
<div style="left:150.0px;top:472.0px;width:147.0px;height:18.3px;box-sizing:border-box;border:1px solid #f8fafe"></div>
<div style="left:298.0px;top:472.0px;width:146.0px;height:18.3px;box-sizing:border-box;border:1px solid #f8fafe"></div>
<div style="left:445.0px;top:472.0px;width:143.5px;height:18.3px;box-sizing:border-box;border:1px solid #f8fafe"></div>
<div style="left:589.5px;top:472.0px;width:146.5px;height:18.3px;box-sizing:border-box;border:1px solid #f8fafe"></div>
<div style="left:737.0px;top:472.0px;width:146.2px;height:18.3px;box-sizing:border-box;border:1px solid #f8fafe"></div>
<div style="left:5.5px;top:491.3px;width:143.5px;height:31.1px;box-sizing:border-box;border:1px solid #f8fafe"></div>
<div style="left:150.0px;top:491.3px;width:147.0px;height:31.1px;box-sizing:border-box;border:1px solid #f8fafe"></div>
<div style="left:298.0px;top:491.3px;width:146.0px;height:31.1px;box-sizing:border-box;border:1px solid #f8fafe"></div>
<div style="left:445.0px;top:491.3px;width:143.5px;height:31.1px;box-sizing:border-box;border:1px solid #f8fafe"></div>
<div style="left:589.5px;top:491.3px;width:146.5px;height:31.1px;box-sizing:border-box;border:1px solid #f8fafe"></div>
<div style="left:737.0px;top:491.3px;width:146.2px;height:31.1px;box-sizing:border-box;border:1px solid #f8fafe"></div>
<div style="left:5.5px;top:523.4px;width:143.5px;height:18.5px;box-sizing:border-box;border:1px solid #f8fafe"></div>
<div style="left:150.0px;top:523.4px;width:147.0px;height:18.5px;box-sizing:border-box;border:1px solid #f8fafe"></div>
<div style="left:298.0px;top:523.4px;width:146.0px;height:18.5px;box-sizing:border-box;border:1px solid #f8fafe"></div>
<div style="left:445.0px;top:523.4px;width:143.5px;height:18.5px;box-sizing:border-box;border:1px solid #f8fafe"></div>
<div style="left:589.5px;top:523.4px;width:146.5px;height:18.5px;box-sizing:border-box;border:1px solid #f8fafe"></div>
<div style="left:737.0px;top:523.4px;width:146.2px;height:18.5px;box-sizing:border-box;border:1px solid #f8fafe"></div>
<div style="left:5.5px;top:542.9px;width:143.5px;height:30.9px;box-sizing:border-box;border:1px solid #f8fafe"></div>
<div style="left:150.0px;top:542.9px;width:147.0px;height:30.9px;box-sizing:border-box;border:1px solid #f8fafe"></div>
<div style="left:298.0px;top:542.9px;width:146.0px;height:30.9px;box-sizing:border-box;border:1px solid #f8fafe"></div>
<div style="left:445.0px;top:542.9px;width:143.5px;height:30.9px;box-sizing:border-box;border:1px solid #f8fafe"></div>
<div style="left:589.5px;top:542.9px;width:146.5px;height:30.9px;box-sizing:border-box;border:1px solid #f8fafe"></div>
<div style="left:737.0px;top:542.9px;width:146.2px;height:30.9px;box-sizing:border-box;border:1px solid #f8fafe"></div>
<div style="left:5px;top:420.0px;width:878.7px;height:1px;background:#aec3e6"></div>
<div style="left:5px;top:438.5px;width:878.7px;height:1px;background:#aec3e6"></div>
<div style="left:5px;top:471.0px;width:878.7px;height:1.5px;background:#8dabd9"></div>
<div style="left:5px;top:490.3px;width:878.7px;height:1px;background:#aec3e6"></div>
<div style="left:5px;top:522.4px;width:878.7px;height:1.5px;background:#8dabd9"></div>
<div style="left:5px;top:541.9px;width:878.7px;height:1px;background:#aec3e6"></div>
<div style="left:5px;top:573.8px;width:878.7px;height:1px;background:#aec3e6"></div>
<div style="left:4.5px;top:420.5px;width:1px;height:153.79999999999995px;background:#aec3e6"></div>
<div style="left:149.0px;top:420.5px;width:1px;height:153.79999999999995px;background:#aec3e6"></div>
<div style="left:297.0px;top:420.5px;width:1px;height:153.79999999999995px;background:#aec3e6"></div>
<div style="left:444.0px;top:420.5px;width:1px;height:153.79999999999995px;background:#aec3e6"></div>
<div style="left:588.5px;top:420.5px;width:1px;height:153.79999999999995px;background:#aec3e6"></div>
<div style="left:736.0px;top:420.5px;width:1px;height:153.79999999999995px;background:#aec3e6"></div>
<div style="left:883.2px;top:420.5px;width:1px;height:153.79999999999995px;background:#aec3e6"></div>
<div style="left:588px;top:471.5px;width:2px;height:51.39999999999998px;background:#8dabd9"></div>
<div style="left:5px;top:423.45px;width:144.5px;height:14px;line-height:14px;text-align:center;white-space:nowrap;font-size:10.2px;color:#333;font-family:'Liberation Sans',sans-serif;">产品</div>
<div style="left:5px;top:474.15px;width:144.5px;height:14px;line-height:14px;text-align:center;white-space:nowrap;font-size:10.2px;color:#333;font-weight:bold;letter-spacing:0.5px;font-family:'Liberation Sans',sans-serif;">计划数</div>
<div style="left:5px;top:526.45px;width:144.5px;height:14px;line-height:14px;text-align:center;white-space:nowrap;font-size:10.2px;color:#333;font-weight:bold;letter-spacing:0.5px;font-family:'Liberation Sans',sans-serif;">计划开始日</div>
<div style="left:149.5px;top:423.45px;width:148.0px;height:14px;line-height:14px;text-align:center;white-space:nowrap;font-size:10.2px;color:#333;font-family:'Liberation Sans',sans-serif;">订单数</div>
<div style="left:149.5px;top:474.15px;width:148.0px;height:14px;line-height:14px;text-align:center;white-space:nowrap;font-size:10.2px;color:#333;font-weight:bold;letter-spacing:0.5px;font-family:'Liberation Sans',sans-serif;">仓库可用数</div>
<div style="left:149.5px;top:526.45px;width:148.0px;height:14px;line-height:14px;text-align:center;white-space:nowrap;font-size:10.2px;color:#333;font-weight:bold;letter-spacing:0.5px;font-family:'Liberation Sans',sans-serif;">计划截止日</div>
<div style="left:297.5px;top:423.45px;width:147.0px;height:14px;line-height:14px;text-align:center;white-space:nowrap;font-size:10.2px;color:#333;font-family:'Liberation Sans',sans-serif;">订单交期</div>
<div style="left:297.5px;top:474.15px;width:147.0px;height:14px;line-height:14px;text-align:center;white-space:nowrap;font-size:10.2px;color:#333;font-family:'Liberation Sans',sans-serif;">在产他单可用数</div>
<div style="left:297.5px;top:526.45px;width:147.0px;height:14px;line-height:14px;text-align:center;white-space:nowrap;font-size:10.2px;color:#333;font-weight:bold;letter-spacing:0.5px;font-family:'Liberation Sans',sans-serif;">最后期限日</div>
<div style="left:444.5px;top:423.45px;width:144.5px;height:14px;line-height:14px;text-align:center;white-space:nowrap;font-size:10.2px;color:#333;font-family:'Liberation Sans',sans-serif;">单位</div>
<div style="left:444.5px;top:474.15px;width:144.5px;height:14px;line-height:14px;text-align:center;white-space:nowrap;font-size:10.2px;color:#333;font-family:'Liberation Sans',sans-serif;">合计</div>
<div style="left:444.5px;top:526.45px;width:144.5px;height:14px;line-height:14px;text-align:center;white-space:nowrap;font-size:10.2px;color:#333;font-family:'Liberation Sans',sans-serif;">状态</div>
<div style="left:589px;top:423.45px;width:147.5px;height:14px;line-height:14px;text-align:center;white-space:nowrap;font-size:10.2px;color:#333;font-family:'Liberation Sans',sans-serif;">已完成订单数</div>
<div style="left:589px;top:474.15px;width:147.5px;height:14px;line-height:14px;text-align:center;white-space:nowrap;font-size:10.2px;color:#f9b016;font-weight:bold;letter-spacing:0.5px;font-family:'Liberation Sans',sans-serif;">已计划数</div>
<div style="left:589px;top:526.45px;width:147.5px;height:14px;line-height:14px;text-align:center;white-space:nowrap;font-size:10.2px;color:#333;font-family:'Liberation Sans',sans-serif;">备注</div>
<div style="left:736.5px;top:423.45px;width:147.20000000000005px;height:14px;line-height:14px;text-align:center;white-space:nowrap;font-size:10.2px;color:#333;font-family:'Liberation Sans',sans-serif;">待完成订单数</div>
<div style="left:736.5px;top:474.15px;width:147.20000000000005px;height:14px;line-height:14px;text-align:center;white-space:nowrap;font-size:10.2px;color:#f9b016;font-weight:bold;letter-spacing:0.5px;font-family:'Liberation Sans',sans-serif;">待计划数</div>
<div style="left:736.5px;top:526.45px;width:147.20000000000005px;height:14px;line-height:14px;text-align:center;white-space:nowrap;font-size:10.2px;color:#333;font-family:'Liberation Sans',sans-serif;">产品计划编码</div>
<div style="left:12px;top:441.65px;width:140px;height:14px;line-height:14px;text-align:left;white-space:nowrap;font-size:10px;color:#222;font-family:'Liberation Mono',monospace;letter-spacing:-0.8px">SY_HD</div>
<div style="left:102.5px;top:441.65px;width:60px;height:14px;line-height:14px;text-align:left;white-space:nowrap;font-size:10px;color:#222;font-family:'Liberation Mono',monospace;letter-spacing:-0.8px">(01-001)</div>
<div style="left:12px;top:456.05px;width:60px;height:14px;line-height:14px;text-align:left;white-space:nowrap;font-size:10px;color:#222;font-family:'Liberation Mono',monospace;letter-spacing:-0.8px">[A]</div>
<div style="left:36.9px;top:441.3px;width:15.2px;height:7.2px;background:#c9cbcf;filter:blur(0.6px);opacity:0.85"></div>
<div style="left:52.1px;top:441.3px;width:10.8px;height:7.2px;background:#d5d7db;filter:blur(0.6px);opacity:0.85"></div>
<div style="left:62.9px;top:441.3px;width:9.9px;height:7.2px;background:#d8dade;filter:blur(0.6px);opacity:0.85"></div>
<div style="left:72.8px;top:441.3px;width:10.8px;height:7.2px;background:#c2c4c8;filter:blur(0.6px);opacity:0.85"></div>
<div style="left:83.6px;top:441.3px;width:11.7px;height:7.2px;background:#d3d5d9;filter:blur(0.6px);opacity:0.85"></div>
<div style="left:36.9px;top:448.5px;width:15.2px;height:7.2px;background:#dfe1e5;filter:blur(0.6px);opacity:0.85"></div>
<div style="left:52.1px;top:448.5px;width:10.8px;height:7.2px;background:#e1e3e7;filter:blur(0.6px);opacity:0.85"></div>
<div style="left:62.9px;top:448.5px;width:9.9px;height:7.2px;background:#e3e5e9;filter:blur(0.6px);opacity:0.85"></div>
<div style="left:72.8px;top:448.5px;width:10.8px;height:7.2px;background:#d7d9dd;filter:blur(0.6px);opacity:0.85"></div>
<div style="left:83.6px;top:448.5px;width:11.7px;height:7.2px;background:#e2e4e8;filter:blur(0.6px);opacity:0.85"></div>
<div style="left:152.2px;top:442.3px;width:143.7px;height:26.2px;box-sizing:border-box;background:#ececec;border:1px solid #e2e2e2;border-radius:4px"></div>
<div style="left:158.7px;top:448.40px;width:150px;height:14px;line-height:14px;text-align:left;white-space:nowrap;font-size:10.8px;letter-spacing:-0.6px;color:#606060;font-family:'Liberation Sans',sans-serif;">5<span style="margin:0 1.5px">,</span>500</div>
<div style="left:300.2px;top:442.3px;width:142.7px;height:26.2px;box-sizing:border-box;background:#ececec;border:1px solid #e2e2e2;border-radius:4px"></div>
<div style="left:306.7px;top:448.40px;width:150px;height:14px;line-height:14px;text-align:left;white-space:nowrap;font-size:10.8px;letter-spacing:-0.6px;color:#606060;font-family:'Liberation Sans',sans-serif;">2019<span style="margin:0 1.2px">-</span>10<span style="margin:0 1.2px">-</span>11</div>
<div style="left:447.2px;top:442.3px;width:140.2px;height:26.2px;box-sizing:border-box;background:#ececec;border:1px solid #e2e2e2;border-radius:4px"></div>
<div style="left:591.7px;top:442.3px;width:143.19999999999993px;height:26.2px;box-sizing:border-box;background:#ececec;border:1px solid #e2e2e2;border-radius:4px"></div>
<div style="left:598.2px;top:448.40px;width:150px;height:14px;line-height:14px;text-align:left;white-space:nowrap;font-size:10.8px;letter-spacing:-0.6px;color:#606060;font-family:'Liberation Sans',sans-serif;">0</div>
<div style="left:739.2px;top:442.3px;width:142.89999999999998px;height:26.2px;box-sizing:border-box;background:#ececec;border:1px solid #e2e2e2;border-radius:4px"></div>
<div style="left:745.7px;top:448.40px;width:150px;height:14px;line-height:14px;text-align:left;white-space:nowrap;font-size:10.8px;letter-spacing:-0.6px;color:#606060;font-family:'Liberation Sans',sans-serif;">0</div>
<div style="left:6.8px;top:494.0px;width:141.1px;height:25.5px;box-sizing:border-box;background:#fff;border:1px solid #dedede;border-radius:4px"></div>
<div style="left:13.3px;top:501.25px;width:150px;height:12px;line-height:12px;text-align:left;white-space:nowrap;font-size:8.4px;color:#444;font-family:'Liberation Sans',sans-serif;">1<span style="margin:0 0.95px">,</span>000</div>
<div style="left:152.2px;top:494.0px;width:143.7px;height:25.5px;box-sizing:border-box;background:#fff;border:1px solid #dedede;border-radius:4px"></div>
<div style="left:158.7px;top:501.25px;width:150px;height:12px;line-height:12px;text-align:left;white-space:nowrap;font-size:8.4px;color:#444;font-family:'Liberation Sans',sans-serif;">0</div>
<div style="left:300.2px;top:494.0px;width:142.7px;height:25.5px;box-sizing:border-box;background:#ececec;border:1px solid #e2e2e2;border-radius:4px"></div>
<div style="left:306.7px;top:499.75px;width:150px;height:14px;line-height:14px;text-align:left;white-space:nowrap;font-size:10.8px;letter-spacing:-0.6px;color:#606060;font-family:'Liberation Sans',sans-serif;">0</div>
<div style="left:447.2px;top:494.0px;width:140.2px;height:25.5px;box-sizing:border-box;background:#ececec;border:1px solid #e2e2e2;border-radius:4px"></div>
<div style="left:453.7px;top:499.75px;width:150px;height:14px;line-height:14px;text-align:left;white-space:nowrap;font-size:10.8px;letter-spacing:-0.6px;color:#606060;font-family:'Liberation Sans',sans-serif;">1<span style="margin:0 1.5px">,</span>000</div>
<div style="left:591.7px;top:494.0px;width:143.19999999999993px;height:25.5px;box-sizing:border-box;background:#ececec;border:1px solid #e2e2e2;border-radius:4px"></div>
<div style="left:598.2px;top:499.75px;width:150px;height:14px;line-height:14px;text-align:left;white-space:nowrap;font-size:10.8px;letter-spacing:-0.6px;color:#606060;font-family:'Liberation Sans',sans-serif;">500</div>
<div style="left:739.2px;top:494.0px;width:142.89999999999998px;height:25.5px;box-sizing:border-box;background:#ececec;border:1px solid #e2e2e2;border-radius:4px"></div>
<div style="left:745.7px;top:499.75px;width:150px;height:14px;line-height:14px;text-align:left;white-space:nowrap;font-size:10.8px;letter-spacing:-0.6px;color:#606060;font-family:'Liberation Sans',sans-serif;">5<span style="margin:0 1.5px">,</span>000</div>
<div style="left:6.8px;top:544.6px;width:141.1px;height:26px;box-sizing:border-box;background:#eef1f6;border:1px solid #d8dade;border-radius:4px"></div>
<div style="left:13.3px;top:550.60px;width:150px;height:14px;line-height:14px;text-align:left;white-space:nowrap;font-size:10.8px;letter-spacing:-0.6px;color:#606060;font-family:'Liberation Sans',sans-serif;">2019<span style="margin:0 1.2px">-</span>9<span style="margin:0 1.2px">-</span>20</div>
<svg style="position:absolute;left:135.20000000000002px;top:552.4px" width="11" height="10" viewBox="0 0 11 10"><rect x="0" y="0" width="11" height="10" rx="1" fill="#c9d3e0"/><rect x="0.8" y="3" width="9.4" height="6.2" fill="#e3e9f1"/><rect x="0" y="0" width="11" height="0.9" fill="#cdc5ae"/><rect x="0" y="0.9" width="11" height="2.1" fill="#8fb1ee"/><path d="M1 5.2 H7 M1 7.3 H7 M4 3 V9" stroke="#cfd8e4" stroke-width="0.5"/><circle cx="7.4" cy="5.7" r="1.8" fill="#f0a07f"/></svg>
<div style="left:152.2px;top:544.6px;width:143.7px;height:26px;box-sizing:border-box;background:#eef1f6;border:1px solid #d8dade;border-radius:4px"></div>
<div style="left:158.7px;top:550.60px;width:150px;height:14px;line-height:14px;text-align:left;white-space:nowrap;font-size:10.8px;letter-spacing:-0.6px;color:#606060;font-family:'Liberation Sans',sans-serif;">2019<span style="margin:0 1.2px">-</span>9<span style="margin:0 1.2px">-</span>21</div>
<svg style="position:absolute;left:283.2px;top:552.4px" width="11" height="10" viewBox="0 0 11 10"><rect x="0" y="0" width="11" height="10" rx="1" fill="#c9d3e0"/><rect x="0.8" y="3" width="9.4" height="6.2" fill="#e3e9f1"/><rect x="0" y="0" width="11" height="0.9" fill="#cdc5ae"/><rect x="0" y="0.9" width="11" height="2.1" fill="#8fb1ee"/><path d="M1 5.2 H7 M1 7.3 H7 M4 3 V9" stroke="#cfd8e4" stroke-width="0.5"/><circle cx="7.4" cy="5.7" r="1.8" fill="#f0a07f"/></svg>
<div style="left:300.2px;top:544.6px;width:142.7px;height:26px;box-sizing:border-box;background:#eef1f6;border:1px solid #d8dade;border-radius:4px"></div>
<div style="left:306.7px;top:550.60px;width:150px;height:14px;line-height:14px;text-align:left;white-space:nowrap;font-size:10.8px;letter-spacing:-0.6px;color:#606060;font-family:'Liberation Sans',sans-serif;">2019<span style="margin:0 1.2px">-</span>9<span style="margin:0 1.2px">-</span>21</div>
<svg style="position:absolute;left:430.2px;top:552.4px" width="11" height="10" viewBox="0 0 11 10"><rect x="0" y="0" width="11" height="10" rx="1" fill="#c9d3e0"/><rect x="0.8" y="3" width="9.4" height="6.2" fill="#e3e9f1"/><rect x="0" y="0" width="11" height="0.9" fill="#cdc5ae"/><rect x="0" y="0.9" width="11" height="2.1" fill="#8fb1ee"/><path d="M1 5.2 H7 M1 7.3 H7 M4 3 V9" stroke="#cfd8e4" stroke-width="0.5"/><circle cx="7.4" cy="5.7" r="1.8" fill="#f0a07f"/></svg>
<div style="left:450.5px;top:552.4px;width:9.5px;height:10px;box-sizing:border-box;border:1px solid #a9a9a9;border-radius:2px;background:linear-gradient(#f4f4f4,#dcdcdc)"></div>
<svg style="position:absolute;left:451.3px;top:553.4px" width="8" height="8" viewBox="0 0 8 8"><path d="M1.2 4.6 L3.1 6.6 L6.9 1.8" stroke="#222" stroke-width="1.8" fill="none"/></svg>
<div style="left:466.8px;top:549.40px;width:40px;height:14px;line-height:14px;text-align:left;white-space:nowrap;font-size:9.8px;color:#222;font-family:'Liberation Sans',sans-serif;">启用</div>
<div style="left:591.7px;top:544.9px;width:142.69999999999993px;height:25.5px;box-sizing:border-box;background:#fff;border:1px solid #dedede;border-radius:4px"></div>
<div style="left:739.2px;top:544.9px;width:142.39999999999998px;height:25.5px;box-sizing:border-box;background:#ececec;border:1px solid #e2e2e2;border-radius:4px"></div>
<div style="left:745.7px;top:550.65px;width:150px;height:14px;line-height:14px;text-align:left;white-space:nowrap;font-size:10.8px;letter-spacing:-0.6px;color:#606060;font-family:'Liberation Sans',sans-serif;">201909001<span style="margin:0 1.2px">-</span>001<span style="margin:0 1.2px">-</span>002</div>
<div style="left:1px;top:576px;width:887px;height:3px;background:#7a9ed0"></div>
<div style="left:2px;top:612.5px;width:884px;height:1px;background:#dddddd"></div>
<div style="left:74px;top:580.8px;width:90px;height:32.5px;box-sizing:border-box;background:#fff;border:1px solid #dddddd;border-bottom:none;border-radius:3px 3px 0 0"></div>
<div style="left:2px;top:590.40px;width:72.5px;height:14px;line-height:14px;text-align:center;white-space:nowrap;font-size:10.7px;color:#3a7ab8;font-family:'Liberation Sans',sans-serif;">可用库存</div>
<div style="left:74.5px;top:590.40px;width:89.5px;height:14px;line-height:14px;text-align:center;white-space:nowrap;font-size:10.7px;color:#555;font-family:'Liberation Sans',sans-serif;">已下产品计划</div>
<div style="left:16px;top:642.5px;width:857px;height:88px;box-sizing:border-box;border-left:1px solid #dddddd;border-right:1px solid #dddddd;border-top:1px solid #dddddd"></div>
<div style="left:16px;top:672.3px;width:857px;height:1px;background:#dddddd"></div>
<div style="left:16px;top:701.3px;width:857px;height:1px;background:#dddddd"></div>
<div style="left:55.0px;top:642.5px;width:1px;height:59.3px;background:#dddddd"></div>
<div style="left:172.5px;top:642.5px;width:1px;height:59.3px;background:#dddddd"></div>
<div style="left:289.8px;top:642.5px;width:1px;height:59.3px;background:#dddddd"></div>
<div style="left:407.5px;top:642.5px;width:1px;height:59.3px;background:#dddddd"></div>
<div style="left:524.5px;top:642.5px;width:1px;height:59.3px;background:#dddddd"></div>
<div style="left:641.1px;top:642.5px;width:1px;height:59.3px;background:#dddddd"></div>
<div style="left:720.5px;top:642.5px;width:1px;height:59.3px;background:#dddddd"></div>
<div style="left:797.8px;top:642.5px;width:1px;height:59.3px;background:#dddddd"></div>
<div style="left:55.5px;top:654.00px;width:117.5px;height:14px;line-height:14px;text-align:center;white-space:nowrap;font-size:10.8px;font-weight:bold;color:#333;font-family:'Liberation Sans',sans-serif;">产品计划单</div>
<div style="left:173px;top:654.00px;width:117.30000000000001px;height:14px;line-height:14px;text-align:center;white-space:nowrap;font-size:10.8px;font-weight:bold;color:#333;font-family:'Liberation Sans',sans-serif;">公司产品名称</div>
<div style="left:290.3px;top:654.00px;width:117.69999999999999px;height:14px;line-height:14px;text-align:center;white-space:nowrap;font-size:10.8px;font-weight:bold;color:#333;font-family:'Liberation Sans',sans-serif;">公司产品编码</div>
<div style="left:408px;top:654.00px;width:117px;height:14px;line-height:14px;text-align:center;white-space:nowrap;font-size:10.8px;font-weight:bold;color:#333;font-family:'Liberation Sans',sans-serif;">客户产品名称</div>
<div style="left:525px;top:654.00px;width:116.60000000000002px;height:14px;line-height:14px;text-align:center;white-space:nowrap;font-size:10.8px;font-weight:bold;color:#333;font-family:'Liberation Sans',sans-serif;">客户产品编码</div>
<div style="left:641.6px;top:654.00px;width:79.39999999999998px;height:14px;line-height:14px;text-align:center;white-space:nowrap;font-size:10.8px;font-weight:bold;color:#333;font-family:'Liberation Sans',sans-serif;">计划开始日</div>
<div style="left:721px;top:654.00px;width:77.29999999999995px;height:14px;line-height:14px;text-align:center;white-space:nowrap;font-size:10.8px;font-weight:bold;color:#333;font-family:'Liberation Sans',sans-serif;">计划截止日</div>
<div style="left:800.8px;top:654.00px;width:74.70000000000005px;height:14px;line-height:14px;text-align:center;white-space:nowrap;font-size:10.8px;font-weight:bold;color:#333;font-family:'Liberation Sans',sans-serif;">计划数</div>
<div style="left:22.8px;top:680.50px;width:120px;height:14px;line-height:14px;text-align:left;white-space:nowrap;font-size:11px;color:#333;font-family:'Liberation Sans',sans-serif;">1</div>
<div style="left:62px;top:680.50px;width:120px;height:14px;line-height:14px;text-align:left;white-space:nowrap;font-size:11px;color:#333;font-family:'Liberation Sans',sans-serif;">201909001-001-001</div>
<div style="left:178px;top:680.50px;width:120px;height:14px;line-height:14px;text-align:left;white-space:nowrap;font-size:11px;color:#333;font-family:'Liberation Sans',sans-serif;">SY_</div>
<div style="left:295.8px;top:680.50px;width:120px;height:14px;line-height:14px;text-align:left;white-space:nowrap;font-size:11px;color:#333;font-family:'Liberation Sans',sans-serif;">SY_</div>
<div style="left:413.5px;top:680.50px;width:120px;height:14px;line-height:14px;text-align:left;white-space:nowrap;font-size:11px;color:#333;font-family:'Liberation Sans',sans-serif;">01-001</div>
<div style="left:531px;top:680.50px;width:120px;height:14px;line-height:14px;text-align:left;white-space:nowrap;font-size:11px;color:#333;font-family:'Liberation Sans',sans-serif;">A01-001</div>
<div style="left:648px;top:680.50px;width:120px;height:14px;line-height:14px;text-align:left;white-space:nowrap;font-size:11px;color:#333;font-family:'Liberation Sans',sans-serif;">2019-09-19</div>
<div style="left:728px;top:680.50px;width:120px;height:14px;line-height:14px;text-align:left;white-space:nowrap;font-size:11px;color:#333;font-family:'Liberation Sans',sans-serif;">2019-09-20</div>
<div style="left:800.3px;top:680.50px;width:74.70000000000005px;height:14px;line-height:14px;text-align:center;white-space:nowrap;font-size:11px;color:#333;font-family:'Liberation Sans',sans-serif;">500</div>
<div style="left:197.3px;top:678px;width:11px;height:10.5px;background:#f0f0f0;filter:blur(0.6px)"></div>
<div style="left:208.3px;top:678px;width:10px;height:10.5px;background:#e4e6e8;filter:blur(0.6px)"></div>
<div style="left:218.4px;top:678px;width:11px;height:10.5px;background:#d8d6d2;filter:blur(0.6px)"></div>
<div style="left:229.6px;top:678px;width:10px;height:10.5px;background:#e2e4e6;filter:blur(0.6px)"></div>
<div style="left:239.8px;top:678px;width:10px;height:10.5px;background:#eeeeee;filter:blur(0.6px)"></div>
<div style="left:249.9px;top:678px;width:11px;height:10.5px;background:#d8dde0;filter:blur(0.6px)"></div>
<div style="left:261px;top:678px;width:10px;height:10.5px;background:#e0dfdc;filter:blur(0.6px)"></div>
<div style="left:271.1px;top:678px;width:9px;height:10.5px;background:#e6e8ec;filter:blur(0.6px)"></div>
<div style="left:197.3px;top:688.5px;width:43px;height:8.5px;background:#f2f2f2;filter:blur(0.6px)"></div>
<div style="left:240px;top:688.5px;width:40px;height:8.5px;background:#f3f4f5;filter:blur(0.6px)"></div>
<div style="left:208px;top:696px;width:20px;height:2px;background:#eeeeee;filter:blur(0.6px)"></div>
<div style="left:315.6px;top:680px;width:8px;height:15px;background:#eeeeee;filter:blur(0.6px)"></div>
<div style="left:323.7px;top:680px;width:10px;height:8px;background:#dde1e4;filter:blur(0.6px)"></div>
<div style="left:333.8px;top:680px;width:10px;height:8px;background:#e4e4e8;filter:blur(0.6px)"></div>
<div style="left:323.7px;top:688px;width:20px;height:7px;background:#eeeff1;filter:blur(0.6px)"></div>
<div style="left:0px;top:729.6px;width:890px;height:5px;background:#eeeeee"></div>
</body></html>
